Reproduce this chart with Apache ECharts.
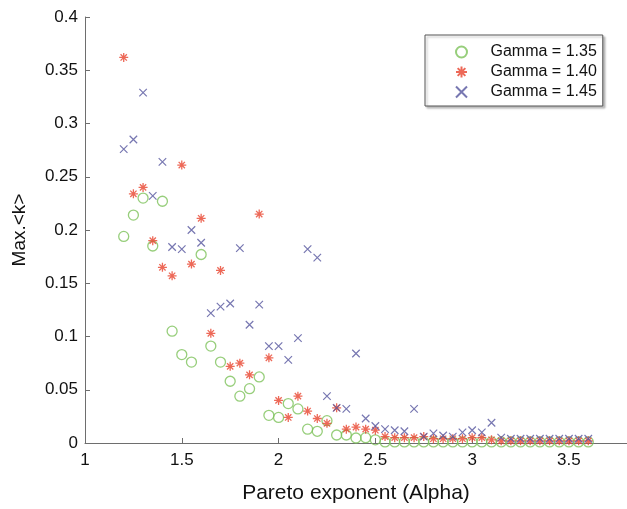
<!DOCTYPE html>
<html>
<head>
<meta charset="utf-8">
<script src="https://cdn.jsdelivr.net/npm/echarts@6/dist/echarts.min.js"></script>
<style>
html,body{margin:0;padding:0;background:#fff;}
#chart{width:627px;height:509px;}
</style>
</head>
<body>
<div id="chart"></div>
<script>
const alphaValues = [1.2,1.25,1.3,1.35,1.4,1.45,1.5,1.55,1.6,1.65,1.7,1.75,1.8,1.85,1.9,1.95,2.0,2.05,2.1,2.15,2.2,2.25,2.3,2.35,2.4,2.45,2.5,2.55,2.6,2.65,2.7,2.75,2.8,2.85,2.9,2.95,3.0,3.05,3.1,3.15,3.2,3.25,3.3,3.35,3.4,3.45,3.5,3.55,3.6];

const gamma135 = [0.194,0.214,0.230,0.185,0.227,0.105,0.083,0.076,0.177,0.091,0.076,0.058,0.044,0.051,0.062,0.026,0.024,0.037,0.032,0.013,0.011,0.021,0.0075,0.0075,0.0047,0.005,0.003,
  0.001,0.001,0.001,0.001,0.001,0.001,0.001,0.001,0.001,0.001,0.001,0.001,0.001,0.001,0.001,0.001,0.001,0.001,0.001,0.001,0.001,0.001];

const gamma140 = [0.362,0.234,0.240,0.190,0.165,0.157,0.261,0.168,0.211,0.103,0.162,0.072,0.075,0.064,0.215,0.080,0.040,0.024,0.044,0.030,0.023,0.0185,0.033,0.013,0.015,0.013,0.012,
  0.006,0.005,0.005,0.005,0.006,0.004,0.004,0.004,0.004,0.005,0.005,0.003,
  0.002,0.002,0.002,0.002,0.002,0.002,0.002,0.002,0.002,0.002];

const gamma145 = [0.276,0.285,0.329,0.232,0.264,0.184,0.182,0.200,0.188,0.122,0.128,0.131,0.183,0.111,0.130,0.091,0.091,0.078,0.0985,0.182,0.174,0.044,0.033,0.032,0.084,0.023,0.016,
  0.013,0.012,0.011,0.032,0.006,0.009,0.007,0.006,0.010,0.012,0.010,0.019,0.005,
  0.004,0.004,0.004,0.004,0.004,0.004,0.004,0.004,0.004];

const seriesNames = ['Gamma = 1.35','Gamma = 1.40','Gamma = 1.45'];
const xTitle = 'Pareto exponent (Alpha)';
const yTitle = 'Max.<k>';

function pairs(ys){ return alphaValues.map((x,i)=>[x, ys[i]]); }

const chart = echarts.init(document.getElementById('chart'), null, {renderer:'canvas'});
const FONT = 'Liberation Sans, Arial, Helvetica, sans-serif';
const axisCol = '#6e6e6e';

chart.setOption({
  animation:false,
  backgroundColor:'#ffffff',
  grid:{left:85, right:0, top:17, bottom:66, containLabel:false},
  legend:{
    left:425, top:35,
    orient:'vertical',
    padding:[9,6,6,30],
    itemGap:4,
    itemWidth:48, itemHeight:11,
    backgroundColor:'#fff',
    borderColor:'#555', borderWidth:1,
    shadowColor:'rgba(0,0,0,0.25)', shadowBlur:2, shadowOffsetX:2, shadowOffsetY:2,
    textStyle:{fontFamily:FONT, fontSize:16, color:'#111', lineHeight:16},
    data:seriesNames
  },
  xAxis:{
    type:'value', min:1, max:3.8, interval:0.5,
    name:xTitle, nameLocation:'middle', nameGap:40,
    nameTextStyle:{fontFamily:FONT, fontSize:21, color:'#111'},
    axisLine:{show:true, lineStyle:{color:axisCol, width:1}},
    axisTick:{show:true, inside:true, length:5, lineStyle:{color:axisCol}},
    axisLabel:{fontFamily:FONT, fontSize:17, color:'#111', margin:9, showMaxLabel:false},
    splitLine:{show:false}
  },
  yAxis:{
    type:'value', min:0, max:0.4, interval:0.05,
    name:yTitle, nameLocation:'middle', nameGap:56, nameRotate:90,
    nameTextStyle:{fontFamily:FONT, fontSize:19, color:'#111'},
    axisLine:{show:true, lineStyle:{color:axisCol, width:1}},
    axisTick:{show:true, inside:true, length:5, lineStyle:{color:axisCol}},
    axisLabel:{fontFamily:FONT, fontSize:17, color:'#111', margin:7},
    splitLine:{show:false}
  },
  series:[
    {
      name:seriesNames[0], type:'scatter', data:pairs(gamma135),
      symbol:'circle', symbolSize:10,
      itemStyle:{color:'rgba(0,0,0,0)', borderColor:'#7dc25a', borderWidth:1.3},
      emphasis:{disabled:true}
    },
    {
      name:seriesNames[1], type:'scatter', data:pairs(gamma140),
      symbol:'path://M5,0L5,10M0,5L10,5M1.5,1.5L8.5,8.5M8.5,1.5L1.5,8.5', symbolSize:9,
      itemStyle:{color:'rgba(0,0,0,0)', borderColor:'#e8432e', borderWidth:1.3},
      emphasis:{disabled:true}
    },
    {
      name:seriesNames[2], type:'scatter', data:pairs(gamma145),
      symbol:'path://M0,0L10,10M10,0L0,10', symbolSize:7.5,
      itemStyle:{color:'rgba(0,0,0,0)', borderColor:'#55559e', borderWidth:1.2},
      emphasis:{disabled:true}
    }
  ]
});
</script>
</body>
</html>
